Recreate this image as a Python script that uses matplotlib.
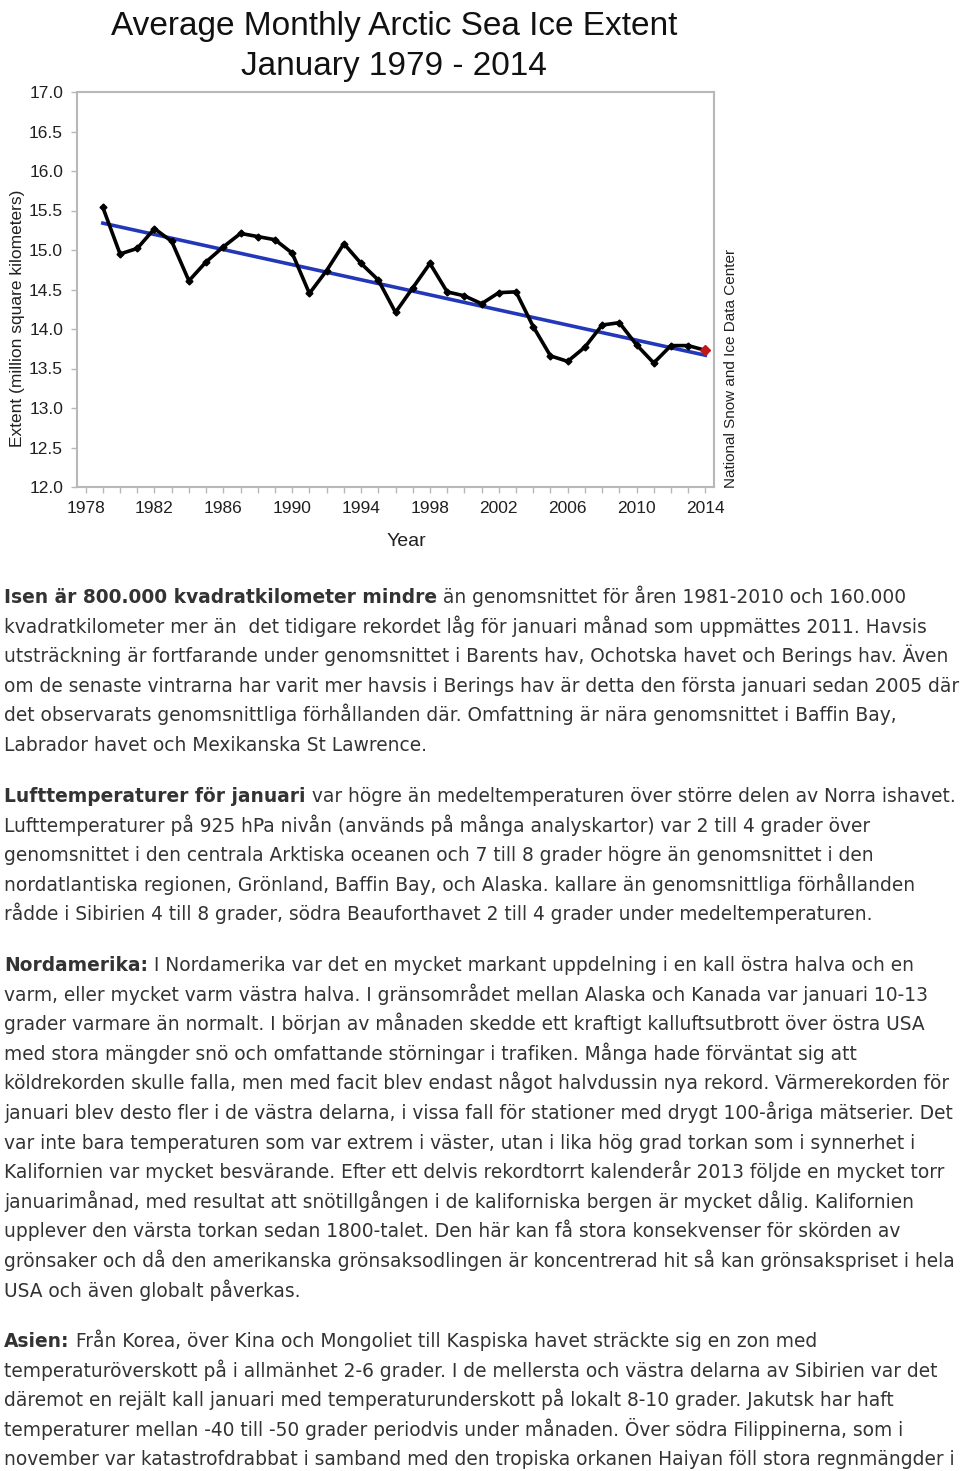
import matplotlib
matplotlib.use("Agg")
from matplotlib import pyplot as plt
from matplotlib.ticker import MultipleLocator, FormatStrFormatter
import numpy as np

# --- data ---
years = list(range(1979, 2015))
extent = [15.54, 14.95, 15.02, 15.27, 15.11, 14.61, 14.85, 15.04, 15.21, 15.17,
          15.13, 14.96, 14.45, 14.74, 15.08, 14.83, 14.62, 14.21, 14.52, 14.83,
          14.47, 14.42, 14.32, 14.46, 14.47, 14.03, 13.66, 13.59, 13.77, 14.05,
          14.08, 13.80, 13.57, 13.79, 13.79, 13.73]
year_ticks = list(range(1978, 2015, 4))
extent_ticks = [12.0, 12.5, 13.0, 13.5, 14.0, 14.5, 15.0, 15.5, 16.0, 16.5, 17.0]

title_lines = ["Average Monthly Arctic Sea Ice Extent", "January 1979 - 2014"]

# paragraphs: list of lines, each line a list of (text, bold) pieces
paragraphs = [
    [[("Isen är 800.000 kvadratkilometer mindre", True), (" än genomsnittet för åren 1981-2010 och 160.000", False)],
     [("kvadratkilometer mer än  det tidigare rekordet låg för januari månad som uppmättes 2011. Havsis", False)],
     [("utsträckning är fortfarande under genomsnittet i Barents hav, Ochotska havet och Berings hav. Även", False)],
     [("om de senaste vintrarna har varit mer havsis i Berings hav är detta den första januari sedan 2005 där", False)],
     [("det observarats genomsnittliga förhållanden där. Omfattning är nära genomsnittet i Baffin Bay,", False)],
     [("Labrador havet och Mexikanska St Lawrence.", False)]],
    [[("Lufttemperaturer för januari", True), (" var högre än medeltemperaturen över större delen av Norra ishavet.", False)],
     [("Lufttemperaturer på 925 hPa nivån (används på många analyskartor) var 2 till 4 grader över", False)],
     [("genomsnittet i den centrala Arktiska oceanen och 7 till 8 grader högre än genomsnittet i den", False)],
     [("nordatlantiska regionen, Grönland, Baffin Bay, och Alaska. kallare än genomsnittliga förhållanden", False)],
     [("rådde i Sibirien 4 till 8 grader, södra Beauforthavet 2 till 4 grader under medeltemperaturen.", False)]],
    [[("Nordamerika:", True), (" I Nordamerika var det en mycket markant uppdelning i en kall östra halva och en", False)],
     [("varm, eller mycket varm västra halva. I gränsområdet mellan Alaska och Kanada var januari 10-13", False)],
     [("grader varmare än normalt. I början av månaden skedde ett kraftigt kalluftsutbrott över östra USA", False)],
     [("med stora mängder snö och omfattande störningar i trafiken. Många hade förväntat sig att", False)],
     [("köldrekorden skulle falla, men med facit blev endast något halvdussin nya rekord. Värmerekorden för", False)],
     [("januari blev desto fler i de västra delarna, i vissa fall för stationer med drygt 100-åriga mätserier. Det", False)],
     [("var inte bara temperaturen som var extrem i väster, utan i lika hög grad torkan som i synnerhet i", False)],
     [("Kalifornien var mycket besvärande. Efter ett delvis rekordtorrt kalenderår 2013 följde en mycket torr", False)],
     [("januarimånad, med resultat att snötillgången i de kaliforniska bergen är mycket dålig. Kalifornien", False)],
     [("upplever den värsta torkan sedan 1800-talet. Den här kan få stora konsekvenser för skörden av", False)],
     [("grönsaker och då den amerikanska grönsaksodlingen är koncentrerad hit så kan grönsakspriset i hela", False)],
     [("USA och även globalt påverkas.", False)]],
    [[("Asien:", True), (" Från Korea, över Kina och Mongoliet till Kaspiska havet sträckte sig en zon med", False)],
     [("temperaturöverskott på i allmänhet 2-6 grader. I de mellersta och västra delarna av Sibirien var det", False)],
     [("däremot en rejält kall januari med temperaturunderskott på lokalt 8-10 grader. Jakutsk har haft", False)],
     [("temperaturer mellan -40 till -50 grader periodvis under månaden. Över södra Filippinerna, som i", False)],
     [("november var katastrofdrabbat i samband med den tropiska orkanen Haiyan föll stora regnmängder i", False)]],
]
para_top = [597, 796, 965, 1341]  # pixel y of first line centre in each paragraph

W, H = 960, 1471
fig = plt.figure(figsize=(W / 100, H / 100), dpi=100)
fig.patch.set_facecolor("white")

narrow = ["Liberation Sans Narrow", "Liberation Sans", "DejaVu Sans"]
arial = ["Liberation Sans", "DejaVu Sans"]
grey = "#b8b8b8"

ax = fig.add_axes([77 / W, 1 - 487 / H, 637 / W, 395 / H])
ax.plot(years, extent, color="black", lw=2.6, marker="D", ms=3.5, zorder=3)
ax.plot(years[-1], extent[-1], color="#c01818", marker="D", ms=5, ls="none", zorder=4)

slope, icpt = np.polyfit(years, extent, 1)
fit_x = np.array([years[0], years[-1]])
ax.plot(fit_x, slope * fit_x + icpt, color="#2338b8", lw=2.6, zorder=2)

ax.set_xlim(1977.5, 2014.5)
ax.set_ylim(12.0, 17.0)
ax.set_xticks(year_ticks)
ax.set_yticks(extent_ticks)
ax.xaxis.set_minor_locator(MultipleLocator(1))
ax.yaxis.set_major_formatter(FormatStrFormatter("%.1f"))
for s in ax.spines.values():
    s.set_color(grey)
    s.set_linewidth(1.5)
ax.tick_params(which="both", direction="out", color=grey, length=4, width=1)
ax.tick_params(axis="y", pad=6)
ax.tick_params(axis="x", pad=6)
for lab in ax.get_xticklabels() + ax.get_yticklabels():
    lab.set_fontfamily(narrow)
    lab.set_fontsize(12.5)
    lab.set_color("#202020")

fig.text(406 / W, 1 - 542 / H, "Year", ha="center", va="center",
         family=narrow, fontsize=14, color="#202020")
fig.text(18 / W, 1 - 318 / H, "Extent (million square kilometers)", ha="center", va="center",
         rotation=90, family=arial, fontsize=12.5, color="#202020")
fig.text(731 / W, 1 - 368 / H, "National Snow and Ice Data Center", ha="center", va="center",
         rotation=90, family=arial, fontsize=11, color="#202020")
for i, line in enumerate(title_lines):
    fig.text(394 / W, 1 - (26 + 40 * i) / H, line, ha="center", va="center",
             family=narrow, fontsize=24, color="#111111")

# --- article text below the chart ---
fig.canvas.draw()
renderer = fig.canvas.get_renderer()
line_step = 29.6
body_size = 13.4
for top, para in zip(para_top, paragraphs):
    for j, pieces in enumerate(para):
        y = 1 - (top + 6 + j * line_step) / H
        x = 4 / W
        for txt, bold in pieces:
            t = fig.text(x, y, txt, ha="left", va="baseline", family="DejaVu Sans",
                         fontsize=body_size, color="#333333",
                         fontweight="bold" if bold else "normal")
            bb = t.get_window_extent(renderer)
            x = bb.x1 / W

fig.savefig("out.png", dpi=100)
